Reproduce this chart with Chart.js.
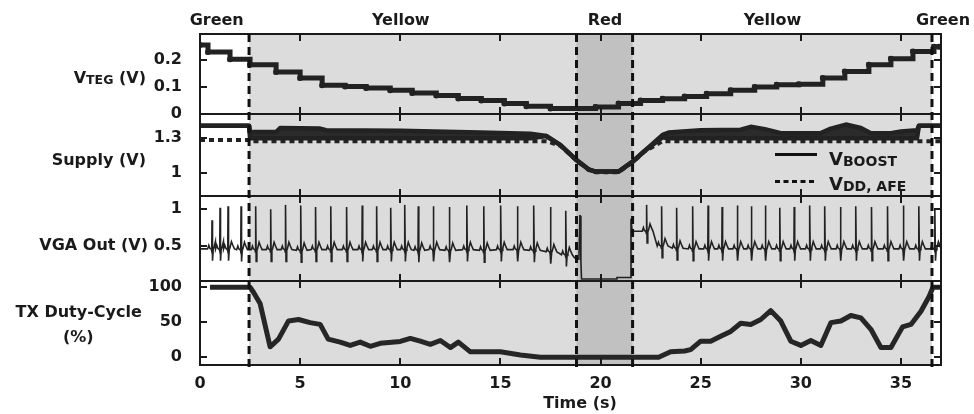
<!DOCTYPE html>
<html>
<head>
<meta charset="utf-8">
<script src="https://cdn.jsdelivr.net/npm/chart.js@4.4.0/dist/chart.umd.min.js"></script>
<style>
html, body { margin: 0; padding: 0; background: #fff; }
</style>
</head>
<body>
<canvas id="chart" width="974" height="414"></canvas>
<script>
// ---- data ----
const xTicks = [0, 5, 10, 15, 20, 25, 30, 35];
const tegTicks = [0, 0.1, 0.2];
const supplyTicks = [1, 1.3];
const vgaTicks = [0.5, 1];
const dutyTicks = [0, 50, 100];

// zone boundaries (s): Green | Yellow | Red | Yellow | Green
const zoneNames = ['Green', 'Yellow', 'Red', 'Yellow', 'Green'];
const zoneEdges = [2.45, 18.8, 21.6, 36.55];

// V_TEG, stepped
const tegTime = [0, 0.4, 1.5, 2.5, 3.8, 5.0, 6.1, 7.25, 8.3, 9.5, 10.6, 11.8, 12.9, 14.05, 15.2, 16.3, 17.5, 19.75, 20.9, 22.0, 23.1, 24.2, 25.3, 26.5, 27.7, 28.8, 29.9, 31.1, 32.2, 33.4, 34.5, 35.6, 36.65, 36.9];
const tegVolt = [0.255, 0.229, 0.203, 0.182, 0.155, 0.133, 0.106, 0.102, 0.096, 0.088, 0.078, 0.068, 0.057, 0.050, 0.039, 0.029, 0.020, 0.026, 0.039, 0.050, 0.056, 0.065, 0.075, 0.088, 0.100, 0.108, 0.110, 0.133, 0.157, 0.182, 0.204, 0.231, 0.249, 0.249];

// V_BOOST band (upper / lower edge of the ripple)
const supplyTime = [0, 2.45, 2.5, 3.8, 4.0, 6.0, 6.3, 10.0, 14.0, 16.5, 17.3, 18.0, 18.8, 19.4, 19.75, 20.9, 21.6, 22.2, 23.1, 23.4, 25.0, 27.0, 27.5, 28.2, 29.0, 31.0, 31.5, 32.25, 33.0, 33.5, 34.5, 35.0, 35.8, 35.9, 37.0];
const boostHigh = [1.41, 1.41, 1.355, 1.355, 1.39, 1.385, 1.37, 1.365, 1.35, 1.34, 1.32, 1.24, 1.11, 1.03, 1.01, 1.01, 1.096, 1.19, 1.33, 1.35, 1.37, 1.375, 1.40, 1.38, 1.345, 1.345, 1.385, 1.42, 1.39, 1.345, 1.345, 1.36, 1.37, 1.41, 1.41];
const boostLow = [1.41, 1.41, 1.30, 1.30, 1.30, 1.30, 1.30, 1.30, 1.30, 1.30, 1.32, 1.24, 1.11, 1.03, 1.01, 1.01, 1.096, 1.19, 1.31, 1.30, 1.30, 1.30, 1.30, 1.30, 1.30, 1.30, 1.30, 1.30, 1.30, 1.30, 1.30, 1.30, 1.30, 1.41, 1.41];

// V_DD,AFE
const afeTime = [0, 2.45, 2.5, 17.3, 18.0, 18.8, 19.4, 19.75, 20.9, 21.6, 22.2, 23.1, 37.0];
const afeVolt = [1.285, 1.285, 1.275, 1.275, 1.235, 1.105, 1.025, 1.005, 1.005, 1.09, 1.185, 1.275, 1.275];

// VGA out: heart beats (R-peak time, peak, baseline)
const beatTime = [0.6, 1.0, 1.4, 2.05, 2.78, 3.53, 4.27, 5.03, 5.77, 6.53, 7.32, 8.10, 8.82, 9.53, 10.23, 10.90, 11.65, 12.45, 13.33, 14.17, 15.02, 15.85, 16.67, 17.50, 18.27,
  22.3, 23.05, 23.8, 24.6, 25.37, 26.07, 26.83, 27.53, 28.23, 28.95, 29.67, 30.45, 31.2, 31.98, 32.75, 33.53, 34.33, 35.12, 35.9, 36.7];
const beatPeak = [0.85, 1.02, 1.04, 1.04, 1.04, 1.00, 1.06, 1.05, 1.03, 1.04, 1.03, 1.05, 1.04, 1.02, 1.06, 1.04, 1.04, 1.03, 1.05, 1.04, 1.05, 1.04, 1.05, 1.03, 0.98,
  1.06, 1.04, 1.02, 1.04, 1.05, 1.03, 1.05, 1.04, 1.05, 1.02, 1.03, 1.05, 1.04, 1.03, 1.04, 1.03, 1.04, 1.05, 1.04, 1.00];
const beatBase = [0.46, 0.46, 0.46, 0.45, 0.45, 0.45, 0.45, 0.44, 0.45, 0.45, 0.45, 0.45, 0.45, 0.45, 0.45, 0.44, 0.45, 0.44, 0.45, 0.44, 0.45, 0.45, 0.44, 0.42, 0.38,
  0.70, 0.50, 0.47, 0.46, 0.46, 0.46, 0.46, 0.46, 0.46, 0.46, 0.46, 0.46, 0.46, 0.46, 0.46, 0.46, 0.46, 0.46, 0.46, 0.46];
// one beat, relative to the R peak (null = the R peak itself)
const beatShapeDt = [-0.22, -0.16, -0.11, -0.04, -0.015, 0, 0.025, 0.06, 0.10, 0.17, 0.24, 0.32];
const beatShapeDv = [0, 0.05, 0.01, 0, -0.03, null, -0.16, -0.01, 0.02, 0.10, 0.05, 0];
// the red zone, where the AFE drops out
const vgaRedTime = [0, 18.70, 18.92, 18.97, 18.99, 19.02, 19.05, 20.78, 20.82, 21.48, 21.52, 21.58, 22.05, 37.0];
const vgaRedVolt = [0.46, 0.34, 0.32, 0.91, 0.91, 0.28, 0.05, 0.05, 0.07, 0.07, 0.87, 0.70, 0.70, 0.46];

// TX duty-cycle (%)
const dutyTime = [0.5, 2.5, 2.67, 3.0, 3.5, 3.92, 4.42, 4.92, 5.5, 6.0, 6.4, 7.0, 7.5, 8.0, 8.5, 9.0, 10.0, 10.5, 11.0, 11.5, 12.0, 12.5, 12.9, 13.5, 15.0, 16.0, 17.0, 22.9, 23.5, 24.2, 24.5, 25.0, 25.5, 26.0, 26.5, 27.0, 27.5, 28.0, 28.5, 29.0, 29.5, 30.0, 30.5, 31.0, 31.5, 32.0, 32.5, 33.0, 33.5, 34.0, 34.5, 35.08, 35.5, 36.0, 36.4, 36.6, 37.0];
const dutyPct = [100, 100, 93, 77, 15, 26, 52, 54, 49.5, 47, 26, 21.7, 17, 21.7, 15.7, 20, 22.6, 27, 23, 18.5, 24, 13.9, 21.7, 7.8, 7.8, 3.2, 0, 0, 7.8, 9, 11, 23, 23, 30, 37, 48.6, 47, 54, 66.7, 51.8, 23, 17, 24, 17, 49.5, 51.8, 59.7, 56.4, 40, 13.9, 13.9, 43.5, 47, 65.7, 86.5, 100, 100];

// ---- build point lists ----
function pairs(xs, ys) {
    return xs.map((x, i) => ({ x: x, y: ys[i] }));
}

const vgaPoints = pairs(vgaRedTime, vgaRedVolt);
beatTime.forEach((t, i) => {
    beatShapeDt.forEach((dt, k) => {
        const dv = beatShapeDv[k];
        vgaPoints.push({ x: t + dt, y: dv === null ? beatPeak[i] : beatBase[i] + dv });
    });
});
vgaPoints.sort((a, b) => a.x - b.x);

const FONT = '"DejaVu Sans", sans-serif';
const INK = '#1a1a1a';
Chart.defaults.font.family = FONT;

function yAxis(weight, min, max, ticks) {
    return {
        type: 'linear',
        position: 'left',
        stack: 'panels',
        stackWeight: weight,
        min: min,
        max: max,
        grid: { display: false },
        border: { display: false },
        afterBuildTicks: s => { s.ticks = ticks.map(v => ({ value: v })); },
        afterFit: s => { s.width = 200; },
        ticks: {
            autoSkip: false,
            padding: 10,
            color: INK,
            font: { size: 16, weight: 'bold' },
            callback: v => String(v)
        }
    };
}

function subText(ctx, parts, x, y, align) {
    // parts: [text, size, dy]
    let w = 0;
    parts.forEach(p => { ctx.font = 'bold ' + p[1] + 'px ' + FONT; w += ctx.measureText(p[0]).width; });
    let cx = align === 'right' ? x - w : (align === 'center' ? x - w / 2 : x);
    ctx.textAlign = 'left';
    parts.forEach(p => {
        ctx.font = 'bold ' + p[1] + 'px ' + FONT;
        ctx.fillText(p[0], cx, y + p[2]);
        cx += ctx.measureText(p[0]).width;
    });
}

const panelPlugin = {
    id: 'panels',
    beforeDatasetsDraw(chart) {
        const { ctx, chartArea: a, scales: { x } } = chart;
        ctx.save();
        ctx.fillStyle = '#dcdcdc';
        const y0 = x.getPixelForValue(zoneEdges[0]), y3 = x.getPixelForValue(zoneEdges[3]);
        ctx.fillRect(y0, a.top, y3 - y0, a.bottom - a.top);
        ctx.fillStyle = '#c1c1c1';
        const r0 = x.getPixelForValue(zoneEdges[1]), r1 = x.getPixelForValue(zoneEdges[2]);
        ctx.fillRect(r0, a.top, r1 - r0, a.bottom - a.top);
        ctx.restore();
    },
    afterDatasetsDraw(chart) {
        const { ctx, chartArea: a, scales } = chart;
        const x = scales.x;
        const panels = [scales.yTeg, scales.ySupply, scales.yVga, scales.yDuty];
        ctx.save();
        ctx.strokeStyle = INK;
        ctx.lineWidth = 2;
        panels.forEach(s => {
            ctx.strokeRect(a.left, s.top, a.right - a.left, s.bottom - s.top);
            ctx.beginPath();
            xTicks.forEach(v => {
                if (v === 0) return;
                const px = Math.round(x.getPixelForValue(v));
                ctx.moveTo(px, s.top); ctx.lineTo(px, s.top + 7);
                ctx.moveTo(px, s.bottom); ctx.lineTo(px, s.bottom - 7);
            });
            s.ticks.forEach(t => {
                const py = Math.round(s.getPixelForValue(t.value));
                ctx.moveTo(a.left, py); ctx.lineTo(a.left + 7, py);
                ctx.moveTo(a.right, py); ctx.lineTo(a.right - 7, py);
            });
            ctx.stroke();
        });

        // zone boundaries
        ctx.lineWidth = 3;
        ctx.setLineDash([8, 5]);
        ctx.strokeStyle = '#111';
        ctx.beginPath();
        zoneEdges.forEach(t => {
            const px = x.getPixelForValue(t);
            ctx.moveTo(px, a.top); ctx.lineTo(px, a.bottom + 4);
        });
        ctx.stroke();
        ctx.setLineDash([]);

        // texts
        ctx.fillStyle = INK;
        ctx.textBaseline = 'alphabetic';
        ctx.font = 'bold 16px ' + FONT;
        ctx.textAlign = 'center';
        const zoneLabelX = [216.7, 400.8, 605, 772.5, 943];
        zoneNames.forEach((n, i) => ctx.fillText(n, zoneLabelX[i], 25));

        subText(ctx, [['V', 16, 0], ['TEG', 12.5, 1], [' (V)', 16, 0]], 146, 82.5, 'right');
        ctx.font = 'bold 16px ' + FONT;
        ctx.textAlign = 'right';
        ctx.fillText('Supply (V)', 146, 165);
        ctx.fillText('VGA Out (V)', 148, 250);
        ctx.textAlign = 'center';
        ctx.fillText('TX Duty-Cycle', 78.7, 316.7);
        ctx.fillText('(%)', 78.3, 341.5);
        ctx.fillText('Time (s)', 580, 407.5);

        // legend of the supply panel
        ctx.lineWidth = 3;
        ctx.beginPath();
        ctx.moveTo(775, 154.5); ctx.lineTo(817, 154.5);
        ctx.stroke();
        ctx.setLineDash([5, 3.5]);
        ctx.beginPath();
        ctx.moveTo(775, 181.5); ctx.lineTo(817, 181.5);
        ctx.stroke();
        ctx.setLineDash([]);
        subText(ctx, [['V', 18, 0], ['BOOST', 14, 1]], 829, 165, 'left');
        subText(ctx, [['V', 18, 0], ['DD, AFE', 14, 0.5]], 829, 190, 'left');
        ctx.restore();
    }
};

const chart = new Chart(document.getElementById('chart'), {
    type: 'line',
    data: {
        datasets: [{
            label: 'VBOOST high',
            data: pairs(supplyTime, boostHigh),
            yAxisID: 'ySupply',
            borderColor: '#222',
            borderWidth: 4.5,
            borderJoinStyle: 'round',
            pointRadius: 0
        }, {
            label: 'VBOOST',
            data: pairs(supplyTime, boostLow),
            yAxisID: 'ySupply',
            borderColor: '#222',
            backgroundColor: '#2b2b2b',
            fill: '-1',
            borderWidth: 4.5,
            borderJoinStyle: 'round',
            pointRadius: 0
        }, {
            label: 'VDD, AFE',
            data: pairs(afeTime, afeVolt),
            yAxisID: 'ySupply',
            borderColor: '#222',
            borderWidth: 4,
            borderDash: [5, 4],
            pointRadius: 0
        }, {
            label: 'VTEG',
            data: pairs(tegTime, tegVolt),
            yAxisID: 'yTeg',
            stepped: true,
            borderColor: '#222',
            borderWidth: 5,
            pointRadius: 3,
            pointBackgroundColor: '#222',
            pointBorderWidth: 0
        }, {
            label: 'VGA Out',
            data: vgaPoints,
            yAxisID: 'yVga',
            borderColor: '#222',
            borderWidth: 1.6,
            pointRadius: 0
        }, {
            label: 'TX Duty-Cycle',
            data: pairs(dutyTime, dutyPct),
            yAxisID: 'yDuty',
            borderColor: '#262626',
            borderWidth: 5,
            borderJoinStyle: 'round',
            pointRadius: 0
        }]
    },
    options: {
        responsive: false,
        animation: false,
        layout: { padding: { top: 34, right: 33, left: 0, bottom: 0 } },
        plugins: {
            legend: { display: false },
            tooltip: { enabled: false }
        },
        scales: {
            x: {
                type: 'linear',
                min: 0,
                max: 37,
                grid: { display: false },
                border: { display: false },
                afterBuildTicks: s => { s.ticks = xTicks.map(v => ({ value: v })); },
                afterFit: s => { s.height = 49; },
                ticks: {
                    padding: 1,
                    maxRotation: 0,
                    autoSkip: false,
                    color: INK,
                    font: { size: 16, weight: 'bold' }
                }
            },
            // stacked panels are laid out bottom-up in this order
            yDuty: yAxis(84, -11, 109, dutyTicks),
            yVga: yAxis(85, 0.023, 1.181, vgaTicks),
            ySupply: yAxis(82, 0.797, 1.512, supplyTicks),
            yTeg: yAxis(80, 0, 0.296, tegTicks)
        }
    },
    plugins: [panelPlugin]
});
</script>
</body>
</html>
